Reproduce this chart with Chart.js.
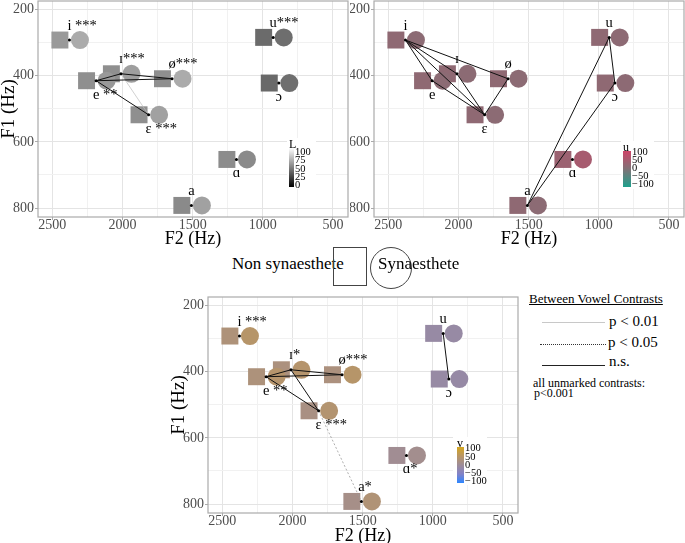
<!DOCTYPE html>
<html><head><meta charset="utf-8">
<script src="https://cdn.jsdelivr.net/npm/chart.js@4/dist/chart.umd.min.js"></script>
<style>
html,body{margin:0;padding:0;background:#fff;width:685px;height:543px;overflow:hidden;position:relative;font-family:"Liberation Serif","Times New Roman",serif;color:#000;}
canvas{position:absolute;}
.abs{position:absolute;white-space:nowrap;line-height:1;}
</style></head><body>
<canvas id="pL" width="350" height="248" style="left:0px;top:0px"></canvas>
<canvas id="pU" width="335" height="248" style="left:350px;top:0px"></canvas>
<canvas id="pV" width="350" height="265" style="left:170px;top:280px"></canvas>

<!-- group legend -->
<div class="abs" style="left:232px;top:255px;font-size:17px">Non synaesthete</div>
<div class="abs" style="left:333px;top:247px;width:32px;height:37px;border:1px solid #444"></div>
<div class="abs" style="left:370px;top:247px;width:40px;height:40px;border:1px solid #444;border-radius:50%"></div>
<div class="abs" style="left:378px;top:255px;font-size:17px">Synaesthete</div>

<!-- contrast legend -->
<div class="abs" style="left:529px;top:292px;font-size:13px;text-decoration:underline">Between Vowel Contrasts</div>
<div class="abs" style="left:542px;top:322px;width:63px;border-top:1px solid #c8c8c8"></div>
<div class="abs" style="left:609px;top:314px;font-size:15px">p &lt; 0.01</div>
<div class="abs" style="left:540px;top:344px;width:66px;border-top:1px dotted #333"></div>
<div class="abs" style="left:608px;top:335px;font-size:15px">p &lt; 0.05</div>
<div class="abs" style="left:542px;top:365px;width:63px;border-top:1px solid #222"></div>
<div class="abs" style="left:609px;top:354px;font-size:15px">n.s.</div>
<div class="abs" style="left:533px;top:377px;font-size:12px">all unmarked contrasts:</div>
<div class="abs" style="left:534px;top:387px;font-size:12px">p&lt;0.001</div>

<script>
// ---------------- DATA ----------------
const vowels = ['i', 'ɪ', 'e', 'ɛ', 'ø', 'u', 'ɔ', 'ɑ', 'a'];
const F2 = [2378, 2011, 2188, 1814, 1647, 926, 886, 1188, 1509];
const F1 = [292, 394, 415, 518, 409, 284, 422, 653, 792];

// colour coordinates (CIELUV) per vowel: non-synaesthetes (squares), synaesthetes (circles)
const L_non = [60, 56, 56, 56, 56, 42, 41, 55, 54];
const L_syn = [67, 62, 60, 63, 67, 43, 43, 54, 63];
const u_non = [20, 20, 20, 20, 20, 20, 20, 35, 20];
const u_syn = [15, 15, 15, 15, 15, 17, 17, 50, 15];
const v_non = [30, 25, 28, 20, 25, -12, -12, 5, 15];
const v_syn = [45, 42, 42, 38, 45, -12, -14, 10, 33];

// significance of group difference per vowel
const stars_L = [' ***', '***', ' **', ' ***', '***', '***', '', '', ''];
const stars_u = ['', '', '', '', '', '', '', '', ''];
const stars_v = [' ***', '*', ' **', ' ***', '***', '', '', '*', '*'];

// between vowel contrasts (ns = n.s., p01 = p<0.01, p05 = p<0.05)
const contrasts_L = [['e','ɪ','ns'], ['e','ø','ns'], ['e','ɛ','ns'], ['ɪ','ø','ns'], ['ɪ','ɛ','p01']];
const contrasts_u = [['i','e','ns'], ['i','ɪ','ns'], ['i','ɛ','ns'], ['i','ø','ns'], ['e','ɛ','ns'],
                     ['ɪ','ɛ','ns'], ['ø','ɛ','ns'], ['u','ɔ','ns'], ['u','a','ns'], ['ɔ','a','ns']];
const contrasts_v = [['e','ɪ','ns'], ['e','ø','ns'], ['e','ɛ','ns'], ['ɪ','ø','ns'], ['ɪ','ɛ','ns'],
                     ['ɛ','a','p05'], ['u','ɔ','ns']];

const xTickLabels = [2500, 2000, 1500, 1000, 500];
const xGridValues = [2500, 2250, 2000, 1750, 1500, 1250, 1000, 750, 500];
const yTickLabels = [200, 400, 600, 800];
const yGridValues = [200, 300, 400, 500, 600, 700, 800];
const legendTicks_L = [100, 75, 50, 25, 0];
const legendTicks_uv = [100, 50, 0, -50, -100];

// ---------------- STYLE / LAYOUT ----------------
const X_MIN = 393, X_MAX = 2602, Y_MIN = 174, Y_MAX = 827;
const DODGE_SQ = 68, DODGE_CI = 75;
const LABEL_SIDE = ['above','above','below','below','above','above','below','below','above'];
const LINE_STYLE = {
  ns:  {color:'#111', width:1, dash:[]},
  p01: {color:'#bdbdbd', width:0.7, dash:[]},
  p05: {color:'#9a9a9a', width:0.8, dash:[2,2]}
};
const L_STOPS = [[0,[0,0,0]], [100,[255,255,255]]];
const U_STOPS = [[-100,[30,160,140]], [0,[128,114,118]], [100,[205,68,104]]];
const V_STOPS = [[-100,[45,135,255]], [-50,[130,130,200]], [0,[158,140,152]], [50,[185,150,100]], [100,[212,166,30]]];
const FONT = '"Liberation Serif", "DejaVu Serif", serif';

function colorAt(stops, val) {
  if (val <= stops[0][0]) return rgb(stops[0][1]);
  for (let i = 1; i < stops.length; i++) {
    if (val <= stops[i][0]) {
      const [a, ca] = stops[i-1], [b, cb] = stops[i];
      const t = (val - a) / (b - a);
      return rgb(ca.map((c, j) => c + (cb[j] - c) * t));
    }
  }
  return rgb(stops[stops.length-1][1]);
}
function rgb(c) { return `rgb(${c.map(Math.round).join(',')})`; }

const borderPlugin = {
  id: 'panelBorder',
  beforeDatasetsDraw(chart) {
    const {ctx, chartArea: a} = chart;
    ctx.save(); ctx.strokeStyle = '#ababab'; ctx.lineWidth = 1.2;
    ctx.strokeRect(a.left, a.top, a.right - a.left, a.bottom - a.top);
    ctx.restore();
  }
};

const labelPlugin = {
  id: 'vowelLabels',
  afterDatasetsDraw(chart, args, opts) {
    const {ctx} = chart; const xs = chart.scales.x, ys = chart.scales.y;
    ctx.save();
    ctx.font = '14.5px ' + FONT; ctx.fillStyle = '#000'; ctx.textBaseline = 'alphabetic'; ctx.textAlign = 'left';
    vowels.forEach((v, k) => {
      const px = xs.getPixelForValue(F2[k]);
      const py = ys.getPixelForValue(F1[k]) + (LABEL_SIDE[k] === 'above' ? -10.5 : 18);
      const w = ctx.measureText(v).width;
      ctx.fillText(v, px - w / 2, py);
      const s = opts.stars[k];
      if (s) ctx.fillText(s, px + w / 2, py);
    });
    ctx.restore();
  }
};

function xScale(height) {
  return {
    type: 'linear', reverse: true, min: X_MIN, max: X_MAX,
    afterBuildTicks(s) { s.ticks = xGridValues.map(v => ({value: v})); },
    afterFit(s) { s.height = height; s.paddingLeft = 0; s.paddingRight = 0; },
    ticks: {
      autoSkip: false, maxRotation: 0, minRotation: 0, padding: -2,
      color: '#4d4d4d', font: {family: FONT, size: 14, lineHeight: 1},
      callback: v => xTickLabels.includes(v) ? String(v) : ''
    },
    grid: {
      color: c => (c.tick && xTickLabels.includes(c.tick.value)) ? '#e4e4e4' : '#f1f1f1',
      tickColor: c => (c.tick && xTickLabels.includes(c.tick.value)) ? '#ababab' : 'rgba(0,0,0,0)',
      lineWidth: 1, tickLength: 3, drawTicks: true
    },
    border: {display: false},
    title: {display: true, text: 'F2 (Hz)', color: '#000', font: {family: FONT, size: 18, lineHeight: 1}, padding: {top: 0, bottom: 0}}
  };
}
function yScale(width, showTitle) {
  return {
    type: 'linear', reverse: true, min: Y_MIN, max: Y_MAX,
    afterBuildTicks(s) { s.ticks = yGridValues.map(v => ({value: v})); },
    afterFit(s) { s.width = width; s.paddingTop = 0; s.paddingBottom = 0; },
    ticks: {
      autoSkip: false, padding: 1,
      color: '#4d4d4d', font: {family: FONT, size: 14},
      callback: v => yTickLabels.includes(v) ? String(v) : ''
    },
    grid: {
      color: c => (c.tick && yTickLabels.includes(c.tick.value)) ? '#e4e4e4' : '#f1f1f1',
      tickColor: c => (c.tick && yTickLabels.includes(c.tick.value)) ? '#ababab' : 'rgba(0,0,0,0)',
      lineWidth: 1, tickLength: 3, drawTicks: true
    },
    border: {display: false},
    title: {display: showTitle, text: 'F1 (Hz)', color: '#000', font: {family: FONT, size: 19, lineHeight: 1}, padding: {top: 0, bottom: 0}}
  };
}

function panel(id, cfg) {
  const idx = n => vowels.indexOf(n);
  const pt = k => ({x: F2[k], y: F1[k]});
  const datasets = [];
  cfg.contrasts.forEach(([a, b, s]) => {
    const st = LINE_STYLE[s];
    datasets.push({data: [pt(idx(a)), pt(idx(b))], showLine: true, pointRadius: 0, pointHoverRadius: 0,
      borderColor: st.color, borderWidth: st.width, borderDash: st.dash, fill: false, order: 1});
  });
  datasets.push({data: vowels.map((v, k) => pt(k)), pointRadius: 1.5, pointBackgroundColor: '#000',
    pointBorderWidth: 0, order: 0});
  datasets.push({data: vowels.map((v, k) => ({x: F2[k] - DODGE_CI, y: F1[k]})), pointStyle: 'circle',
    pointRadius: 9, pointBorderWidth: 0, pointBackgroundColor: cfg.syn.map(val => colorAt(cfg.stops, val)), order: 3});
  datasets.push({data: vowels.map((v, k) => ({x: F2[k] + DODGE_SQ, y: F1[k]})), pointStyle: 'rect',
    pointRadius: 12, pointBorderWidth: 0, pointBackgroundColor: cfg.non.map(val => colorAt(cfg.stops, val)), order: 4});
  return new Chart(document.getElementById(id), {
    type: 'scatter',
    data: {datasets},
    options: {
      responsive: false, animation: false, events: [],
      layout: {padding: cfg.padding, autoPadding: false},
      plugins: {legend: {display: false}, tooltip: {enabled: false}, vowelLabels: {stars: cfg.stars}},
      scales: {x: xScale(cfg.xHeight), y: yScale(cfg.yWidth, cfg.yTitle)}
    },
    plugins: [borderPlugin, labelPlugin]
  });
}

panel('pL', {contrasts: contrasts_L, non: L_non, syn: L_syn, stops: L_STOPS, stars: stars_L,
  padding: {left: 0, top: 1, right: 2, bottom: 0}, yWidth: 38, yTitle: true, xHeight: 31});
panel('pU', {contrasts: contrasts_u, non: u_non, syn: u_syn, stops: U_STOPS, stars: stars_u,
  padding: {left: 0, top: 1, right: 1, bottom: 0}, yWidth: 24, yTitle: false, xHeight: 31});
panel('pV', {contrasts: contrasts_v, non: v_non, syn: v_syn, stops: V_STOPS, stars: stars_v,
  padding: {left: 0, top: 17, right: 2, bottom: 0}, yWidth: 38, yTitle: true, xHeight: 32});

// ---------------- colour bars ----------------
function colorbar(box, title, bar, ticks, stops, labTop, labBot) {
  const add = (style, text) => { const d = document.createElement('div'); d.className = 'abs';
    Object.assign(d.style, style); if (text !== undefined) d.textContent = text; document.body.appendChild(d); return d; };
  add({left: box[0] + 'px', top: box[1] + 'px', width: box[2] + 'px', height: box[3] + 'px', background: '#fff'});
  add({left: bar[0] + 'px', top: (bar[1] - 10) + 'px', fontSize: '12px'}, title);
  const lo = stops[0][0], hi = stops[stops.length - 1][0];
  const grad = stops.map(([v, c]) => `${rgb(c)} ${((v - lo) / (hi - lo) * 100).toFixed(1)}%`).join(',');
  add({left: bar[0] + 'px', top: bar[1] + 'px', width: bar[2] + 'px', height: bar[3] + 'px',
    background: `linear-gradient(to top, ${grad})`});
  const tmax = Math.max(...ticks), tmin = Math.min(...ticks);
  ticks.forEach(t => {
    const y = labTop + (tmax - t) / (tmax - tmin) * (labBot - labTop);
    add({left: (bar[0] + bar[2] + 1) + 'px', top: (y - 5.25) + 'px', fontSize: '10.5px'},
      t < 0 ? '\u2212' + Math.abs(t) : String(t));
  });
}
colorbar([287, 138, 29, 51], 'L', [289, 148, 5, 39], legendTicks_L, L_STOPS, 152, 185.5);
colorbar([621, 141, 33, 48], 'u', [623, 151, 8, 36], legendTicks_uv, U_STOPS, 152.5, 184);
colorbar([453, 437, 34, 48], 'v', [457, 447, 7, 36], legendTicks_uv, V_STOPS, 448.5, 481.5);
</script>
</body></html>
